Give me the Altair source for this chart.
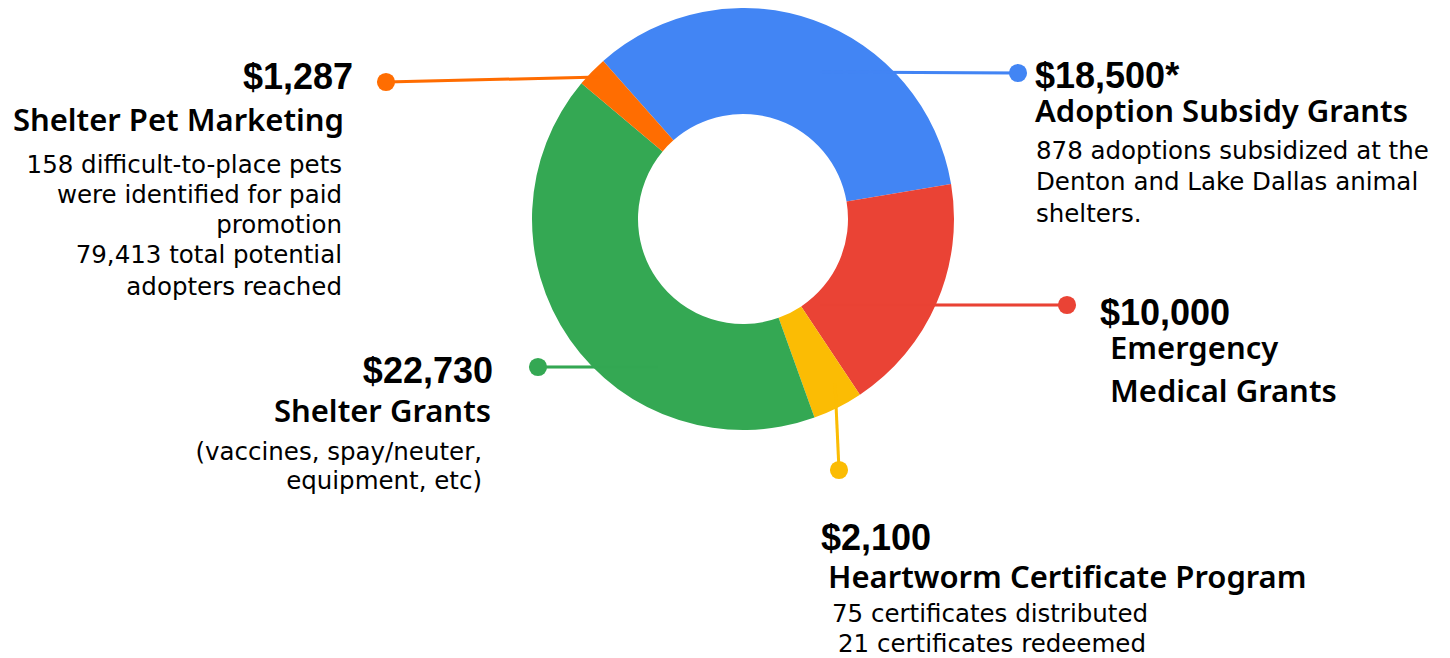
import math
import altair as alt
import pandas as pd

# ---- data ----
categories = ["Adoption Subsidy Grants", "Emergency Medical Grants", "Heartworm Certificate Program",
              "Shelter Grants", "Shelter Pet Marketing"]
amounts = [18500, 10000, 2100, 22730, 1287]
colors = ["#4285F4", "#EA4335", "#FBBC04", "#34A853", "#FF6D01"]

value_labels = ["$18,500*", "$10,000", "$2,100", "$22,730", "$1,287"]
title_labels = [["Adoption Subsidy Grants"], ["Emergency", "Medical Grants"], ["Heartworm Certificate Program"],
                ["Shelter Grants"], ["Shelter Pet Marketing"]]
body_labels = [
    ["878 adoptions subsidized at the", "Denton and Lake Dallas animal", "shelters."],
    [],
    ["75 certificates distributed", "21 certificates redeemed"],
    ["(vaccines, spay/neuter,", "equipment, etc)"],
    ["158 difficult-to-place pets", "were identified for paid", "promotion", "79,413 total potential",
     "adopters reached"],
]

# ---- layout (page pixels) ----
M = 8
CX, CY = 743, 219
R_OUT, R_IN = 211, 105
START = math.radians(-41.5)

# value label: (x, baseline, align)
value_pos = [(1035, 88, "left"), (1100, 325, "left"), (821, 550, "left"), (493, 383, "right"), (353, 89, "right")]
title_pos = [[(1035, 122)], [(1110, 359), (1110, 402)], [(828, 588)], [(491, 422)], [(344, 131)]]
body_pos = [
    [(1036, 159), (1036, 190), (1036, 222)],
    [],
    [(832, 622), (838, 652)],
    [(482, 460), (482, 489)],
    [(342, 173), (342, 203), (342, 233), (342, 263), (342, 295)],
]
aligns = ["left", "left", "left", "right", "right"]
# leader lines: (x1, y1, x2, y2), dot at (x2, y2)
leaders = [(820, 72, 1018, 73), (820, 305, 1067, 305), (835, 383, 839, 470),
           (658, 367, 538, 367), (600, 77, 386, 82)]

df = pd.DataFrame({"cat": categories, "amount": amounts, "idx": list(range(len(categories)))})

arc = alt.Chart(df).mark_arc(outerRadius=R_OUT, innerRadius=R_IN, stroke=None).encode(
    theta=alt.Theta("amount:Q", stack=True, scale=alt.Scale(range=[START, START + 2 * math.pi])),
    color=alt.Color("cat:N", scale=alt.Scale(domain=categories, range=colors), legend=None),
    order=alt.Order("idx:Q"),
    x=alt.value(CX - M),
    y=alt.value(CY - M),
)

line_rows = []
for c, (x1, y1, x2, y2) in zip(categories, leaders):
    line_rows.append({"cat": c, "x": x1 - M, "y": y1 - M, "x2": x2 - M, "y2": y2 - M})
ldf = pd.DataFrame(line_rows)

cscale = alt.Scale(domain=categories, range=colors)
rules = alt.Chart(ldf).mark_rule(strokeWidth=3).encode(
    x=alt.X("x:Q", scale=None), y=alt.Y("y:Q", scale=None),
    x2="x2:Q", y2="y2:Q",
    color=alt.Color("cat:N", scale=cscale, legend=None),
)
rules_faint = rules.mark_rule(strokeWidth=3, opacity=0.12)
dots = alt.Chart(ldf).mark_circle(size=330, opacity=1).encode(
    x=alt.X("x2:Q", scale=None), y=alt.Y("y2:Q", scale=None),
    color=alt.Color("cat:N", scale=cscale, legend=None),
)

text_rows = []
for i in range(len(categories)):
    vx, vy, va = value_pos[i]
    text_rows.append({"t": value_labels[i], "x": vx - M, "y": vy - M, "style": "value", "align": va})
    for t, (tx, ty) in zip(title_labels[i], title_pos[i]):
        text_rows.append({"t": t, "x": tx - M, "y": ty - M, "style": "title", "align": aligns[i]})
    for t, (bx, by) in zip(body_labels[i], body_pos[i]):
        text_rows.append({"t": t, "x": bx - M, "y": by - M, "style": "body", "align": aligns[i]})
tdf = pd.DataFrame(text_rows)

styles = {
    "value": dict(font="Liberation Sans", fontSize=36, fontWeight="bold"),
    "title": dict(font="Noto Sans", fontSize=31, fontWeight=600),
    "body": dict(font="DejaVu Sans", fontSize=24.5, fontWeight=400),
}
text_layers = []
for s, props in styles.items():
    for al in ["left", "right"]:
        sub = tdf[(tdf["style"] == s) & (tdf["align"] == al)]
        if len(sub) == 0:
            continue
        text_layers.append(
            alt.Chart(sub).mark_text(align=al, baseline="alphabetic", color="#000000", **props).encode(
                x=alt.X("x:Q", scale=None), y=alt.Y("y:Q", scale=None), text="t:N"
            )
        )

chart = alt.layer(rules, arc, rules_faint, dots, *text_layers).properties(
    width=1434, height=650, padding=0
).configure_view(stroke=None)

chart.save("out.html", embed_options={"renderer": "svg", "actions": False})
